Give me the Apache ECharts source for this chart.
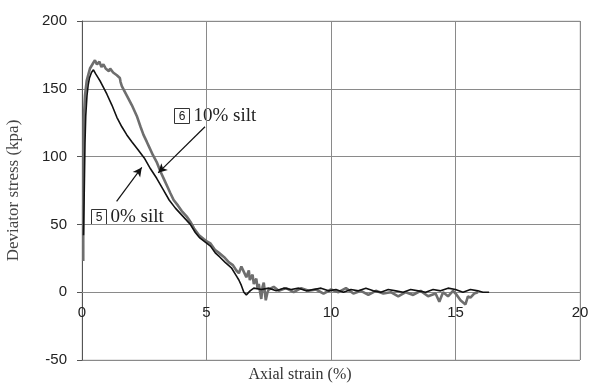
<!DOCTYPE html>
<html>
<head>
<meta charset="utf-8">
<script src="https://cdn.jsdelivr.net/npm/echarts@6/dist/echarts.min.js"></script>
<style>
  html, body { margin: 0; padding: 0; background: #fff; }
  #chart { width: 600px; height: 383px; }
</style>
</head>
<body>
<div id="chart"></div>
<script>
// axis ticks
const xTicks = [0, 5, 10, 15, 20];
const yTicks = [-50, 0, 50, 100, 150, 200];

// 0% silt (black) - [axial strain %, deviator stress kPa]
const silt0 = [
  [0.06, 42], [0.08, 62], [0.1, 86], [0.12, 110], [0.15, 130], [0.2, 145],
  [0.25, 153], [0.3, 158], [0.38, 162], [0.46, 164], [0.55, 161], [0.65, 158],
  [0.75, 155], [0.86, 151], [1.0, 146], [1.2, 138], [1.4, 129], [1.6, 122],
  [1.8, 116], [2.0, 111], [2.25, 105], [2.5, 99], [2.75, 91], [3.0, 84],
  [3.25, 76], [3.5, 68], [3.75, 62], [4.0, 57], [4.35, 50], [4.55, 44],
  [4.73, 40], [4.95, 37], [5.16, 34], [5.35, 29], [5.53, 26], [5.75, 22],
  [6.0, 18], [6.2, 12], [6.3, 9], [6.4, 5], [6.5, 0], [6.6, -2], [6.75, 1],
  [6.9, 3], [7.2, 2], [7.5, 3], [7.8, 1], [8.1, 3], [8.4, 2], [8.7, 3],
  [9.0, 1], [9.3, 2], [9.6, 3], [9.9, 1], [10.2, 2], [10.5, 0], [10.8, 2],
  [11.1, 1], [11.4, 3], [11.7, 1], [12.0, 0], [12.3, 2], [12.6, 1], [12.9, 0],
  [13.2, 2], [13.5, 1], [13.8, 0], [14.1, 2], [14.4, 1], [14.7, 3], [15.0, 2],
  [15.3, 0], [15.6, 2], [15.9, 1], [16.1, 0], [16.35, 0]
];

// 10% silt (grey)
const silt10 = [
  [0.05, 23], [0.05, 60], [0.06, 100], [0.07, 126], [0.12, 145], [0.19, 156],
  [0.32, 165], [0.45, 169], [0.52, 171], [0.6, 168], [0.7, 170], [0.78, 166],
  [0.86, 168], [0.95, 165], [1.0, 166], [1.08, 163], [1.13, 165], [1.25, 162],
  [1.32, 163], [1.4, 160], [1.47, 161], [1.52, 158], [1.55, 155], [1.6, 152],
  [1.8, 145], [2.0, 138], [2.2, 130], [2.35, 122], [2.47, 116], [2.6, 111],
  [2.7, 107], [2.85, 101], [3.0, 96], [3.15, 89], [3.3, 83], [3.45, 77],
  [3.55, 73], [3.68, 68], [3.85, 64], [4.0, 60], [4.2, 56], [4.35, 52],
  [4.5, 47], [4.7, 42], [4.9, 39], [5.05, 37], [5.16, 36], [5.35, 31],
  [5.5, 29], [5.7, 26], [5.9, 22], [6.06, 20], [6.2, 16], [6.3, 14], [6.4, 19],
  [6.5, 15], [6.6, 11], [6.7, 16], [6.74, 9], [6.85, 13], [6.9, 6], [7.0, 10],
  [7.05, 3], [7.1, 6], [7.2, -5], [7.25, 4], [7.3, 7], [7.38, -6], [7.45, 0],
  [7.5, 2], [7.7, 4], [7.9, 1], [8.2, 3], [8.5, 0], [8.8, 3], [9.1, 1],
  [9.4, 2], [9.7, -1], [10.0, 2], [10.3, 0], [10.6, 3], [10.9, -1], [11.2, 1],
  [11.5, -2], [11.8, 1], [12.1, -1], [12.4, 0], [12.7, -3], [13.0, 0],
  [13.3, -2], [13.6, 1], [13.9, -3], [14.2, -1], [14.35, -7], [14.5, 0],
  [14.7, -3], [14.9, 1], [15.05, -2], [15.2, -6], [15.4, -9], [15.5, -3],
  [15.6, -4], [15.75, -1], [15.9, 0]
];

// arrows: [from, to] in data coords
const arrow0 = [[1.39, 67], [2.40, 92]];
const arrow10 = [[4.94, 122], [3.06, 88]];

const chart = echarts.init(document.getElementById('chart'));

const gridTop = 21, gridBottom = 23;
const gridH = 383 - gridTop - gridBottom;
const yMin = yTicks[0], yMax = yTicks[yTicks.length - 1];
// x axis sits on the y = 0 line (onZero is not applied here, so shift with offset)
const xAxisOffset = -((0 - yMin) / (yMax - yMin)) * gridH;

const labelBox = (x, y, num, text) => ({
  type: 'group',
  left: x,
  top: y,
  children: [
    {
      type: 'rect',
      shape: { x: 0, y: 0, width: 15, height: 15 },
      style: { fill: '#fff', stroke: '#333', lineWidth: 1 }
    },
    {
      type: 'text',
      x: 7.5, y: 8,
      style: { text: num, font: '12px "Liberation Sans", Arial', fill: '#222', align: 'center', verticalAlign: 'middle' }
    },
    {
      type: 'text',
      x: 19, y: 8,
      style: { text: text, font: '19px "Liberation Serif", "Times New Roman", serif', fill: '#222', verticalAlign: 'middle' }
    }
  ]
});

const arrowLine = (pts) => [{ coord: pts[0] }, { coord: pts[1] }];

const option = {
  animation: false,
  backgroundColor: '#fff',
  grid: {
    left: 82, right: 20, top: gridTop, bottom: gridBottom,
    outerBoundsMode: 'none',
    containLabel: false,
    show: true, borderColor: '#cfcfcf', borderWidth: 1
  },
  xAxis: {
    type: 'value',
    min: xTicks[0], max: xTicks[xTicks.length - 1], interval: 5,
    offset: xAxisOffset,
    name: 'Axial strain (%)',
    nameLocation: 'middle',
    nameGap: 75,
    nameTextStyle: { fontFamily: '"Liberation Serif", serif', fontSize: 16, color: '#333', padding: [0, 62, 0, 0] },
    axisLine: { onZero: false, lineStyle: { color: '#8a8a8a', width: 1 } },
    axisTick: { show: false },
    axisLabel: { margin: 13, fontFamily: '"Liberation Sans", Arial', fontSize: 15, color: '#222' },
    splitLine: { show: true, lineStyle: { color: '#8a8a8a', width: 1 } }
  },
  yAxis: {
    type: 'value',
    min: yMin, max: yMax, interval: 50,
    name: 'Deviator stress (kpa)',
    nameLocation: 'middle',
    nameGap: 60,
    nameTextStyle: { fontFamily: '"Liberation Serif", serif', fontSize: 17, color: '#444' },
    axisLine: { show: true, onZero: false, lineStyle: { color: '#555', width: 1 } },
    axisTick: { show: true, length: 5, lineStyle: { color: '#555' } },
    axisLabel: { margin: 15, fontFamily: '"Liberation Sans", Arial', fontSize: 15, color: '#222' },
    splitLine: { show: true, lineStyle: { color: '#8a8a8a', width: 1 } }
  },
  series: [
    {
      name: '10% silt',
      type: 'line',
      data: silt10,
      showSymbol: false,
      lineStyle: { color: '#6e6e6e', width: 2.6 },
      z: 3
    },
    {
      name: '0% silt',
      type: 'line',
      data: silt0,
      showSymbol: false,
      lineStyle: { color: '#111', width: 1.6 },
      z: 4,
      markLine: {
        silent: true,
        symbol: ['none', 'arrow'],
        symbolSize: [7, 9],
        label: { show: false },
        lineStyle: { color: '#111', width: 1.2, type: 'solid' },
        data: [arrowLine(arrow0), arrowLine(arrow10)]
      }
    }
  ],
  graphic: [
    labelBox(91, 208, '5', '0% silt'),
    labelBox(174, 107, '6', '10% silt')
  ]
};

chart.setOption(option);
</script>
</body>
</html>
